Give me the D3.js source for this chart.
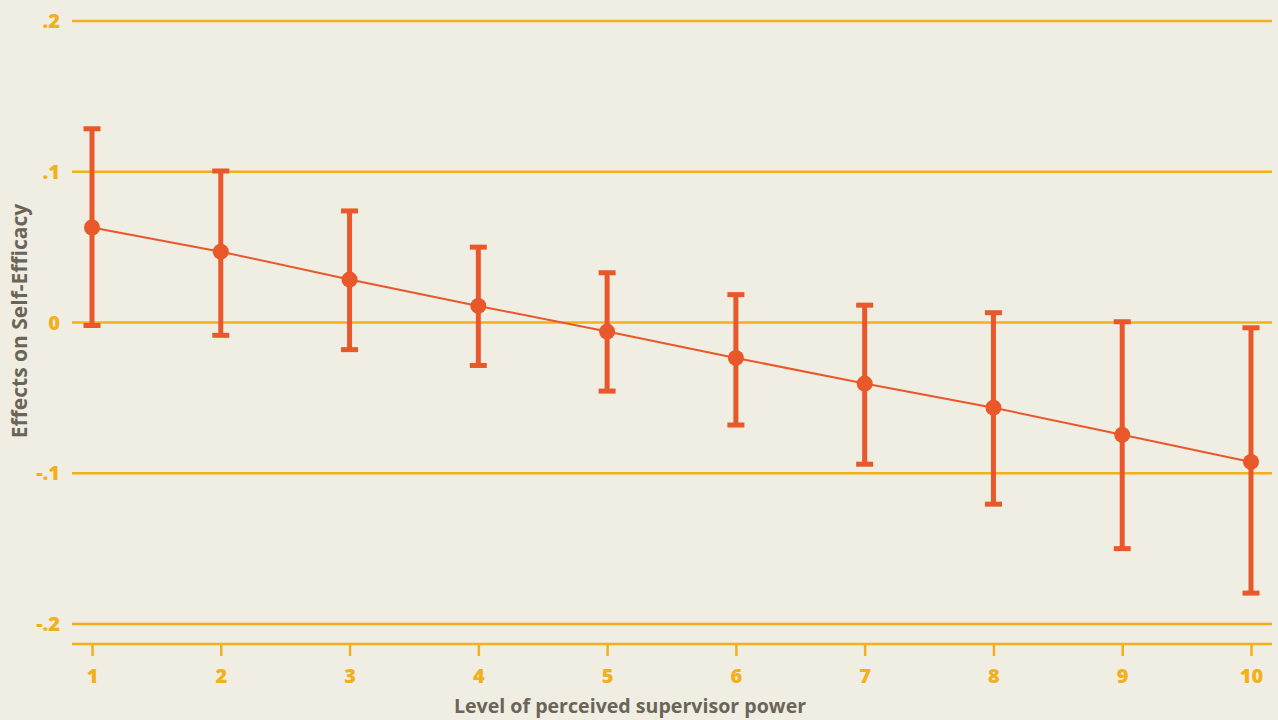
<!DOCTYPE html>
<html><head><meta charset="utf-8">
<script src="https://cdn.jsdelivr.net/npm/d3@7"></script>
<style>html,body{margin:0;padding:0;background:#f0ede3;}svg{display:block;}</style>
</head><body>
<script>
const levels = [1,2,3,4,5,6,7,8,9,10];
const effects = [0.063, 0.047, 0.0285, 0.011, -0.006, -0.0235, -0.0405, -0.0565, -0.0745, -0.0925];
const upper = [0.1285, 0.1005, 0.074, 0.050, 0.033, 0.0185, 0.0115, 0.0065, 0.0005, -0.0035];
const lower = [-0.002, -0.0085, -0.018, -0.0285, -0.0455, -0.068, -0.094, -0.1205, -0.150, -0.1795];
const yTicks = [0.2, 0.1, 0, -0.1, -0.2];
const yTickLabels = [".2", ".1", "0", "-.1", "-.2"];

const W = 1278, H = 720;
const svg = d3.select("body").append("svg").attr("width", W).attr("height", H);
svg.append("rect").attr("width", W).attr("height", H).attr("fill", "#f0ede3");

const x = d3.scaleLinear().domain([1, 10]).range([92, 1251]);
const y = d3.scaleLinear().domain([-0.2, 0.2]).range([624, 21]);
const gridColor = "#f2b01c", markColor = "#e8582a", font = "'Open Sans', sans-serif";

// gridlines
svg.append("g").selectAll("line").data(yTicks).join("line")
  .attr("x1", 72).attr("x2", 1272)
  .attr("y1", d => y(d)).attr("y2", d => y(d))
  .attr("stroke", gridColor).attr("stroke-width", 2.5);

// y labels
svg.append("g").selectAll("text").data(yTicks).join("text")
  .attr("x", 60).attr("y", d => y(d)).attr("dy", "0.36em")
  .attr("text-anchor", "end").attr("fill", gridColor)
  .attr("font-family", font).attr("font-weight", 800).attr("font-size", 20)
  .text((d, i) => yTickLabels[i]);

// x axis
const xAxis = svg.append("g").attr("transform", "translate(0,644)")
  .call(d3.axisBottom(x).tickValues(levels).tickFormat(d3.format("d")).tickSize(12).tickPadding(13));
xAxis.select(".domain").attr("d", "M72,0H1272").attr("stroke", gridColor).attr("stroke-width", 2.5);
xAxis.selectAll(".tick line").attr("stroke", gridColor).attr("stroke-width", 2.5);
xAxis.selectAll(".tick text").attr("fill", gridColor).attr("font-family", font)
  .attr("font-weight", 800).attr("font-size", 20);

// axis titles
svg.append("text").attr("x", 630).attr("y", 713).attr("text-anchor", "middle")
  .attr("fill", "#6b6558").attr("font-family", font).attr("font-weight", 700).attr("font-size", 19.6)
  .text("Level of perceived supervisor power");
svg.append("text").attr("transform", "translate(27,321) rotate(-90)").attr("text-anchor", "middle")
  .attr("fill", "#6b6558").attr("font-family", font).attr("font-weight", 700).attr("font-size", 21)
  .text("Effects on Self-Efficacy");

const data = levels.map((l, i) => ({l, e: effects[i], u: upper[i], lo: lower[i]}));

// error bars
const eb = svg.append("g");
eb.selectAll(".v").data(data).join("line")
  .attr("x1", d => x(d.l)).attr("x2", d => x(d.l))
  .attr("y1", d => y(d.u)).attr("y2", d => y(d.lo))
  .attr("stroke", markColor).attr("stroke-width", 5);
eb.selectAll(".cu").data(data).join("line")
  .attr("x1", d => x(d.l) - 8.5).attr("x2", d => x(d.l) + 8.5)
  .attr("y1", d => y(d.u)).attr("y2", d => y(d.u))
  .attr("stroke", markColor).attr("stroke-width", 5);
eb.selectAll(".cl").data(data).join("line")
  .attr("x1", d => x(d.l) - 8.5).attr("x2", d => x(d.l) + 8.5)
  .attr("y1", d => y(d.lo)).attr("y2", d => y(d.lo))
  .attr("stroke", markColor).attr("stroke-width", 5);

// line
svg.append("path").datum(data)
  .attr("d", d3.line().x(d => x(d.l)).y(d => y(d.e)))
  .attr("fill", "none").attr("stroke", markColor).attr("stroke-width", 2);

// points
svg.append("g").selectAll("circle").data(data).join("circle")
  .attr("cx", d => x(d.l)).attr("cy", d => y(d.e)).attr("r", 8)
  .attr("fill", markColor);
</script>
</body></html>
